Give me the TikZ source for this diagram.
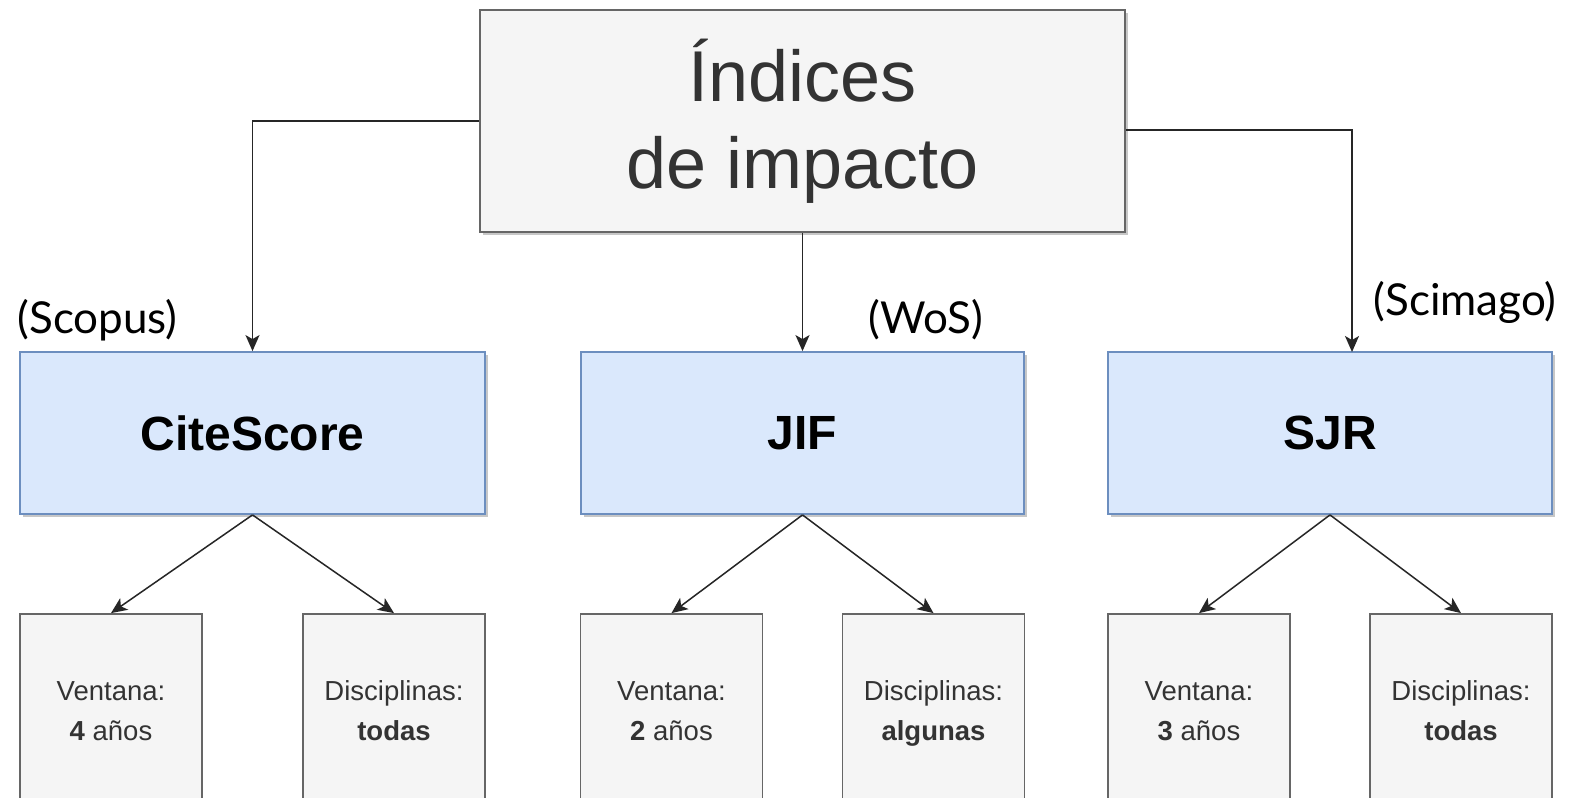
\documentclass[tikz,border=0pt]{standalone}
\usepackage{fontspec}
\setmainfont{Liberation Sans}
\newfontfamily\labelfont{Lato}
\usetikzlibrary{arrows.meta,shadows}
\definecolor{greyfill}{HTML}{F5F5F5}
\definecolor{greyline}{HTML}{666666}
\definecolor{bluefill}{HTML}{DAE8FC}
\definecolor{blueline}{HTML}{6C8EBF}
\definecolor{txtgrey}{HTML}{333333}
\tikzset{
  x=1bp, y=1bp,
  boxshadow/.style={general shadow={shadow xshift=3bp, shadow yshift=-3bp, fill=black, opacity=0.22}},
  topbox/.style={draw=greyline, fill=greyfill, line width=1.8bp, boxshadow, inner sep=0pt,
    minimum width=645bp, minimum height=222bp, align=center, text=txtgrey,
    font=\fontsize{72bp}{87bp}\selectfont},
  bluebox/.style={draw=blueline, fill=bluefill, line width=1.8bp, boxshadow, inner sep=0pt,
    minimum height=162bp, font=\fontsize{48bp}{56bp}\selectfont\bfseries},
  leafbox/.style={draw=greyline, fill=greyfill, line width=1.8bp, inner sep=0pt,
    minimum width=182bp, minimum height=206bp, align=center, text=txtgrey,
    font=\fontsize{27.5bp}{40bp}\selectfont, execute at end node={\strut}},
  srclabel/.style={inner sep=0pt, font=\labelfont\fontsize{44bp}{48bp}\selectfont},
  conn/.style={draw=black!85, line width=1.5bp, -{Stealth[length=16bp, width=14bp, inset=4bp]}}
}
\begin{document}
\begin{tikzpicture}
\useasboundingbox (0,0) rectangle (1576,-797);
\clip (0,0) rectangle (1576,-797);
\fill[white] (0,0) rectangle (1576,-797);

\node[topbox] (top) at (802.5,-121) {Índices\\de impacto};

\node[bluebox, minimum width=465bp] (cs) at (252.5,-433) {CiteScore};
\node[bluebox, minimum width=443bp] (jif) at (802.5,-433) {JIF};
\node[bluebox, minimum width=444bp] (sjr) at (1330,-433) {SJR};

\node[leafbox] (csv) at (111,-717) {Ventana:\\\textbf{4} años};
\node[leafbox] (csd) at (394,-717) {Disciplinas:\\\textbf{todas}};
\node[leafbox] (jifv) at (671.5,-717) {Ventana:\\\textbf{2} años};
\node[leafbox] (jifd) at (933.5,-717) {Disciplinas:\\\textbf{algunas}};
\node[leafbox] (sjrv) at (1199,-717) {Ventana:\\\textbf{3} años};
\node[leafbox] (sjrd) at (1461,-717) {Disciplinas:\\\textbf{todas}};

\node[srclabel] (lscopus) at (97.5,-320) {(Scopus)};
\node[srclabel] (lwos) at (926,-320) {(WoS)};
\node[srclabel] (lscimago) at (1465,-302) {(Scimago)};

\coordinate (rout) at (1126,-130);
\coordinate (sjrin) at (1352,-352);

\draw[conn] (top.west) -| (cs.north);
\draw[conn] (top.south) -- (jif.north);
\draw[conn] (rout) -| (sjrin);

\draw[conn] (cs.south) -- (csv.north);
\draw[conn] (cs.south) -- (csd.north);
\draw[conn] (jif.south) -- (jifv.north);
\draw[conn] (jif.south) -- (jifd.north);
\draw[conn] (sjr.south) -- (sjrv.north);
\draw[conn] (sjr.south) -- (sjrd.north);
\end{tikzpicture}
\end{document}
